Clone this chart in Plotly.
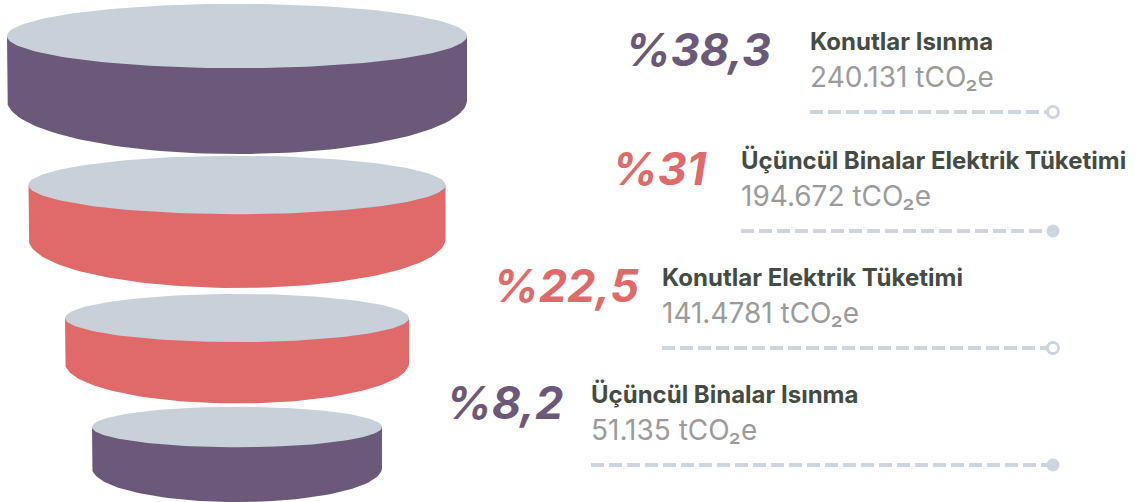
import numpy as np
import plotly.graph_objects as go

# ---- data ----
categories = ["Konutlar Isınma", "Üçüncül Binalar Elektrik Tüketimi",
              "Konutlar Elektrik Tüketimi", "Üçüncül Binalar Isınma"]
shares = [38.3, 31, 22.5, 8.2]
value_labels = ["240.131", "194.672", "141.4781", "51.135"]
unit = "tCO₂e"

# ---- styles / layout ----
W, H = 1143, 502
PURPLE, RED, TOPC = "#6c5878", "#e06a6a", "#c8d0da"
body_colors = [PURPLE, RED, RED, PURPLE]
cyl_cx = 237
cyl_rx = [230, 208.5, 172, 145]
cyl_cy = [36, 185, 318, 427]
cyl_h = [64, 54, 45, 41]
text_x = [810, 741, 662, 591]
pct_right = [773, 709, 641, 566]
row_y = [41, 160, 277, 394]
hollow = [True, False, True, False]
LINE_C = "#cdd5df"
circle_x = 1053

fig = go.Figure()
t = np.linspace(0, np.pi, 80)
tt = np.linspace(0, 2 * np.pi, 160)
for i in range(len(categories)):
    rx = cyl_rx[i]
    ryt = 0.14 * rx
    ryb = 0.235 * rx
    cy = cyl_cy[i]
    h = cyl_h[i]
    bx = np.concatenate([[cyl_cx - rx], cyl_cx - rx * np.cos(t), [cyl_cx + rx, cyl_cx - rx]])
    by = np.concatenate([[cy], cy + h + ryb * np.sin(t), [cy, cy]])
    fig.add_trace(go.Scatter(x=bx, y=by, mode="lines", fill="toself",
                             fillcolor=body_colors[i], line=dict(width=0, color=body_colors[i]),
                             hoverinfo="skip", showlegend=False))
    ex = cyl_cx + rx * np.cos(tt)
    ey = cy + ryt * np.sin(tt)
    fig.add_trace(go.Scatter(x=ex, y=ey, mode="lines", fill="toself",
                             fillcolor=TOPC, line=dict(width=0, color=TOPC),
                             hoverinfo="skip", showlegend=False))

annotations = []
for i, cat in enumerate(categories):
    tx = text_x[i]
    ry = row_y[i]
    pct = "%" + f"{shares[i]:g}".replace(".", ",")
    annotations.append(dict(x=pct_right[i], y=ry + 8, text=pct, xanchor="right", yanchor="middle",
                            showarrow=False,
                            font=dict(family="Inter", size=45, color=body_colors[i],
                                      weight=700, style="italic")))
    annotations.append(dict(x=tx - 2, y=ry, text=cat, xanchor="left", yanchor="middle",
                            showarrow=False,
                            font=dict(family="Inter", size=24, color="#454c44", weight=700)))
    annotations.append(dict(x=tx - 2, y=ry + 36, text=f"{value_labels[i]} {unit}",
                            xanchor="left", yanchor="middle", showarrow=False,
                            font=dict(family="Inter", size=28, color="#9b9b9b", weight=400)))
    ly = ry + 71
    fig.add_trace(go.Scatter(x=[tx, circle_x - 6], y=[ly, ly], mode="lines",
                             line=dict(color=LINE_C, width=4, dash="13px,5px"),
                             hoverinfo="skip", showlegend=False))
    if hollow[i]:
        mk = dict(size=11, color="white", line=dict(color=LINE_C, width=3))
    else:
        mk = dict(size=13, color=LINE_C, line=dict(width=0))
    fig.add_trace(go.Scatter(x=[circle_x], y=[ly], mode="markers", marker=mk,
                             hoverinfo="skip", showlegend=False))

fig.update_layout(
    width=W, height=H, margin=dict(l=0, r=0, t=0, b=0),
    paper_bgcolor="white", plot_bgcolor="white",
    xaxis=dict(range=[0, W], visible=False, fixedrange=True),
    yaxis=dict(range=[H, 0], visible=False, fixedrange=True),
    annotations=annotations, showlegend=False,
)
fig.write_html("out.html", config={"displayModeBar": False},
               post_script="document.body.style.margin='0';document.body.style.overflow='hidden';")
